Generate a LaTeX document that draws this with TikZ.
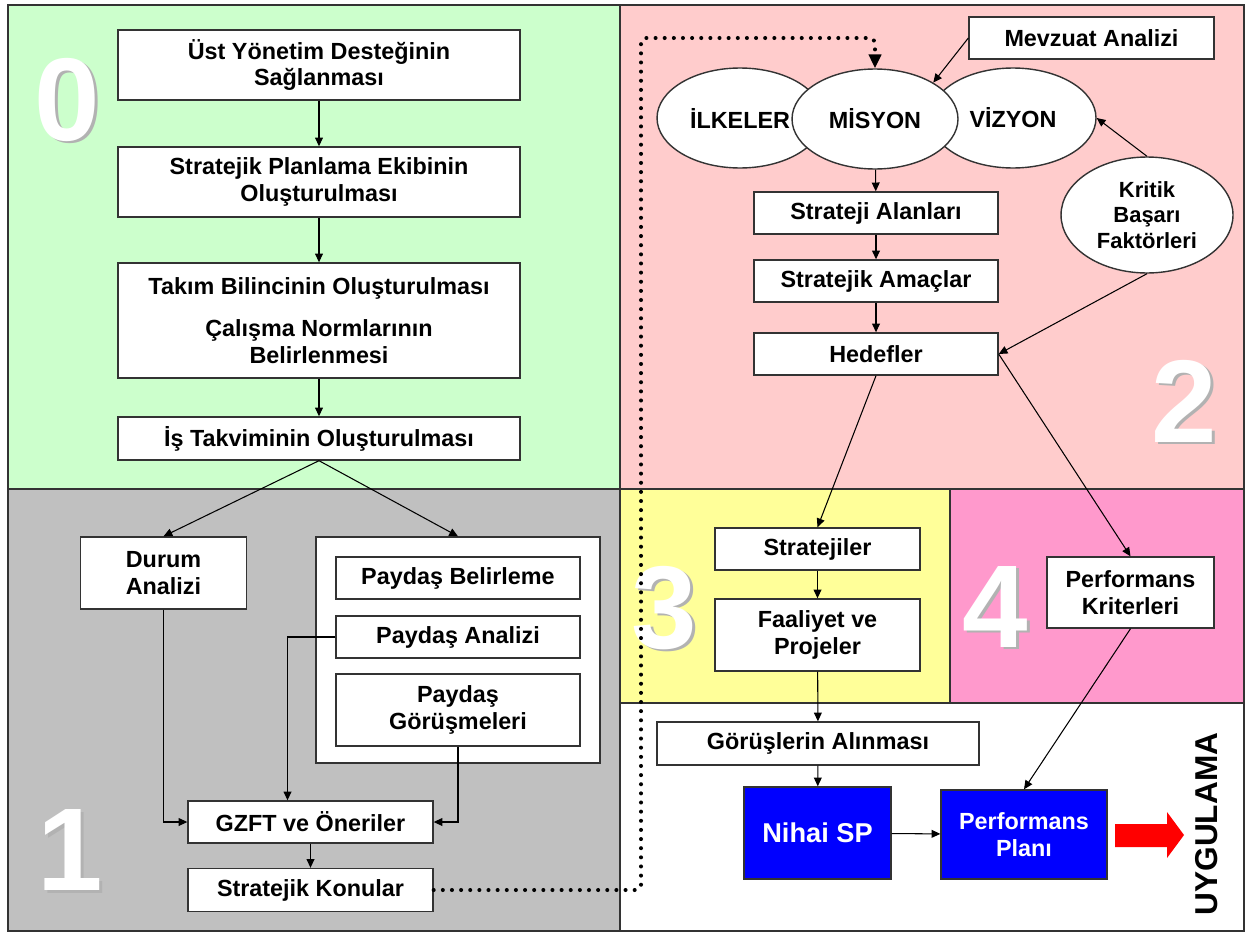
\documentclass[tikz,border=0pt]{standalone}
\usepackage{fontspec}
\setmainfont{Liberation Sans}
\usetikzlibrary{arrows.meta,calc,shapes.geometric}

\definecolor{yesil}{HTML}{CCFFCC}
\definecolor{pembe}{HTML}{FFCCCC}
\definecolor{gri}{HTML}{C0C0C0}
\definecolor{sari}{HTML}{FFFF99}
\definecolor{koyupembe}{HTML}{FF99CC}
\definecolor{mavi}{HTML}{0000FF}
\definecolor{kirmizi}{HTML}{FF0000}
\definecolor{cizgi}{HTML}{333333}

\newcommand{\golge}[1]{\makebox[0pt][l]{\hspace{1.7pt}\raisebox{-1.7pt}{\textcolor{black!30}{#1}}}\textcolor{white}{#1}}

\tikzset{
	kutu/.style={draw=cizgi, fill=white, line width=0.8pt, align=center, inner sep=1pt, font=\bfseries\fontsize{13.3}{15}\selectfont},
	mavikutu/.style={kutu, fill=mavi, text=white},
	elips/.style={ellipse, kutu, inner sep=0pt, minimum width=3.32cm, minimum height=2cm},
	ok/.style={-{Triangle[length=5pt,width=4.5pt]}, line width=0.6pt},
	noktali/.style={line width=2.3pt, line cap=round, dash pattern=on 0pt off 5.2pt, rounded corners=3pt, -{Triangle[length=8pt,width=7pt]}},
	bolge/.style={draw=cizgi, line width=0.9pt},
	rakam/.style={anchor=base, inner sep=0pt, font=\bfseries\fontsize{67}{67}\selectfont},
}

\begin{document}
\begin{tikzpicture}[x=0.02cm, y=-0.02cm]
	%%%%% START %%%%%
	\useasboundingbox (0,0) rectangle (1246,933);
	
	\fill[yesil] (8,5) rectangle (620,489);
	\fill[pembe] (620,5) rectangle (1244,489);
	\fill[gri] (8,489) rectangle (620,931);
	\fill[sari] (620,489) rectangle (950,703);
	\fill[koyupembe] (950,489) rectangle (1244,703);
	\fill[white] (620,703) rectangle (1244,931);
	\draw[bolge] (8,5) rectangle (1244,931);
	\draw[bolge] (620,5) -- (620,931);
	\draw[bolge] (8,489) -- (1244,489);
	\draw[bolge] (620,703) -- (1244,703);
	\draw[bolge] (950,489) -- (950,703);
	
	\node[rakam] (r0) at (67,140) {\golge{0}};
	\node[rakam] (r1) at (70,890) {\golge{1}};
	\node[rakam] (r2) at (1184,442) {\golge{2}};
	\node[rakam] (r3) at (664,648) {\golge{3}};
	\node[rakam] (r4) at (995,647) {\golge{4}};
	
	% 0
	\node[kutu, minimum width=8.04cm, minimum height=1.4cm] (ust) at (319,65) {Üst Yönetim Desteğinin\\ Sağlanması};
	\node[kutu, minimum width=8.04cm, minimum height=1.4cm] (ekip) at (319,182) {Stratejik Planlama Ekibinin\\ Oluşturulması};
	\node[kutu, minimum width=8.04cm, minimum height=2.3cm] (takim) at (319,320.5) {Takım Bilincinin Oluşturulması\\[9pt] Çalışma Normlarının\\ Belirlenmesi};
	\node[kutu, minimum width=8.04cm, minimum height=0.86cm] (takvim) at (319,438.5) {İş Takviminin Oluşturulması};
	\draw[ok] (ust) -- (ekip);
	\draw[ok] (ekip) -- (takim);
	\draw[ok] (takim) -- (takvim);
	
	% 1
	\node[kutu, minimum width=3.32cm, minimum height=1.44cm] (durum) at (163.5,573) {Durum\\ Analizi};
	\node[kutu, minimum width=5.68cm, minimum height=4.52cm] (paydas) at (458,650) {};
	\node[kutu, minimum width=4.88cm, minimum height=0.84cm] (pb) at (458,578) {Paydaş Belirleme};
	\node[kutu, minimum width=4.88cm, minimum height=0.84cm] (pa) at (458,637) {Paydaş Analizi};
	\node[kutu, minimum width=4.88cm, minimum height=1.44cm] (pg) at (458,710) {Paydaş\\ Görüşmeleri};
	\node[kutu, minimum width=4.9cm, minimum height=0.84cm] (gzft) at (310.5,822) {GZFT ve Öneriler};
	\node[kutu, minimum width=4.9cm, minimum height=0.86cm] (sk) at (310.5,890) {Stratejik Konular};
	\draw[ok] (takvim.south) -- (durum.north);
	\draw[ok] (takvim.south) -- (paydas.north);
	\draw[ok] (durum.south) |- (gzft.west);
	\draw[ok] (pa.west) -| ($(gzft.north)+(-23,0)$);
	\draw[ok] (pg.south) |- (gzft.east);
	\draw[ok] (gzft) -- (sk);
	
	% 2
	\node[kutu, minimum width=4.9cm, minimum height=0.84cm] (mevzuat) at (1091.5,38) {Mevzuat Analizi};
	\node[elips] (ilke) at (740,118) {İLKELER};
	\node[elips] (vizyon) at (1013,118) {VİZYON};
	\node[elips] (misyon) at (875,119) {MİSYON};
	\node[elips, minimum width=3.44cm, minimum height=2.32cm, font=\bfseries\fontsize{12.5}{14.5}\selectfont] (kritik) at (1147,215) {Kritik\\ Başarı\\ Faktörleri};
	\node[kutu, minimum width=4.88cm, minimum height=0.84cm] (alan) at (876,213) {Strateji Alanları};
	\node[kutu, minimum width=4.88cm, minimum height=0.84cm] (amac) at (876,281) {Stratejik Amaçlar};
	\node[kutu, minimum width=4.88cm, minimum height=0.84cm] (hedef) at (876,354) {Hedefler};
	\draw[ok] (mevzuat.west) -- (misyon.32);
	\draw[ok] (misyon) -- (alan);
	\draw[ok] (alan) -- (amac);
	\draw[ok] (amac) -- (hedef);
	\draw[ok] (kritik.north) -- (vizyon.east);
	\draw[ok] (kritik.south) -- (hedef.east);
	
	% 3 ve 4
	\node[kutu, minimum width=4.1cm, minimum height=0.84cm] (strateji) at (817.5,549) {Stratejiler};
	\node[kutu, minimum width=4.1cm, minimum height=1.44cm] (faaliyet) at (817.5,635) {Faaliyet ve\\ Projeler};
	\node[kutu, minimum width=3.34cm, minimum height=1.42cm] (kriter) at (1130.5,592.5) {Performans\\ Kriterleri};
	\draw[ok] (hedef.south) -- (strateji.north);
	\draw[ok] (hedef.east) -- (kriter.north);
	\draw[ok] (strateji) -- (faaliyet);
	
	% uygulama
	\node[kutu, minimum width=6.44cm, minimum height=0.86cm] (gorus) at (818,743.5) {Görüşlerin Alınması};
	\node[mavikutu, minimum width=2.94cm, minimum height=1.84cm, font=\bfseries\fontsize{15.5}{18}\selectfont] (nihai) at (817.5,833) {Nihai SP};
	\node[mavikutu, minimum width=3.32cm, minimum height=1.78cm] (plan) at (1024,834.5) {Performans\\ Planı};
	\node[rotate=90, inner sep=0pt, font=\bfseries\fontsize{18}{18}\selectfont] (uyg) at (1207,824) {UYGULAMA};
	\fill[kirmizi] (1115,824) -- (1167,824) -- (1167,812) -- (1184,835) -- (1167,858) -- (1167,847) -- (1115,847) -- cycle;
	\draw[ok] (faaliyet) -- (gorus);
	\draw[ok] (gorus) -- (nihai);
	\draw[ok] (nihai) -- (plan);
	\draw[ok] (kriter.south) -- (plan.north);
	
	\coordinate (kose) at (641,38);
	\draw[noktali] (sk.east) -| (kose) -| (misyon.north);
	
	%%%%% END %%%%%
\end{tikzpicture}
\end{document}
